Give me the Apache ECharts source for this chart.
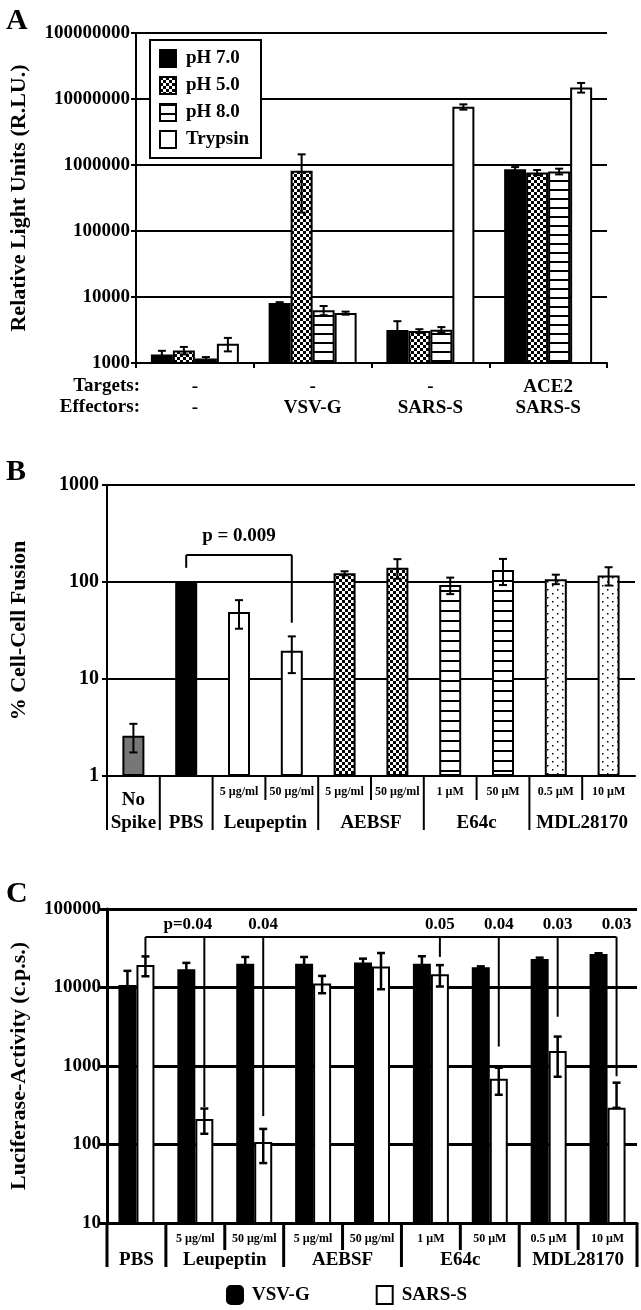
<!DOCTYPE html>
<html><head><meta charset="utf-8">
<script src="https://cdn.jsdelivr.net/npm/echarts@6/dist/echarts.min.js"></script>
<style>html,body{margin:0;padding:0;background:#fff}#c{width:641px;height:1310px}</style>
</head><body><div id="c"></div>
<script>
// ---------------- Panel A data ----------------
const aTargets = ['-', '-', '-', 'ACE2'];
const aEffectors = ['-', 'VSV-G', 'SARS-S', 'SARS-S'];
const aSeriesNames = ['pH 7.0', 'pH 5.0', 'pH 8.0', 'Trypsin'];
const aPH70 = [1350, 8100, 3150, 860000];
const aPH70Err = [180, 250, 1150, 70000];
const aPH50 = [1550, 820000, 3050, 770000];
const aPH50Err = [200, 630000, 200, 70000];
const aPH80 = [1170, 6300, 3200, 800000];
const aPH80Err = [60, 1000, 300, 80000];
const aTrypsin = [1950, 5700, 7600000, 15000000];
const aTrypsinErr = [450, 300, 700000, 2500000];
const aYTicks = [1000, 10000, 100000, 1000000, 10000000, 100000000];

// ---------------- Panel B data ----------------
const bDose = ['', '', '5 µg/ml', '50 µg/ml', '5 µg/ml', '50 µg/ml', '1 µM', '50 µM', '0.5 µM', '10 µM'];
const bGroups = ['No\nSpike', 'PBS', 'Leupeptin', 'AEBSF', 'E64c', 'MDL28170'];
const bGroupSpans = [[0, 0], [1, 1], [2, 3], [4, 5], [6, 7], [8, 9]];
const bValues = [2.6, 100, 49, 19.5, 123, 140, 93, 133, 107, 117];
const bErr = [0.85, 0, 16, 8, 6, 32, 18, 40, 12, 25];
const bP = { text: 'p = 0.009', from: 1, to: 3, level: 190, legEnds: [140, 38] };
const bYTicks = [1, 10, 100, 1000];

// ---------------- Panel C data ----------------
const cDose = ['', '5 µg/ml', '50 µg/ml', '5 µg/ml', '50 µg/ml', '1 µM', '50 µM', '0.5 µM', '10 µM'];
const cGroups = ['PBS', 'Leupeptin', 'AEBSF', 'E64c', 'MDL28170'];
const cGroupSpans = [[0, 0], [1, 2], [3, 4], [5, 6], [7, 8]];
const cSeriesNames = ['VSV-G', 'SARS-S'];
const cVSVG = [10800, 17100, 20000, 20000, 20800, 20000, 18100, 23000, 26800];
const cVSVGErr = [5500, 3500, 4500, 4500, 2500, 5000, 500, 1000, 500];
const cSARS = [19400, 212, 108, 11250, 18500, 14800, 690, 1550, 293];
const cSARSErr = [5500, 75, 50, 2800, 9000, 4500, 260, 820, 320];
const cPLabels = ['p=0.04', '0.04', '0.05', '0.04', '0.03', '0.03'];
const cPTargets = [1, 2, 5, 6, 7, 8];
const cPLevel = 44000;
const cPLegEnds = [25000, 300, 230, 24500, 1770, 4240, 740];
const cYTicks = [10, 100, 1000, 10000, 100000];

// ---------------- styles ----------------
const FONT = '"Liberation Serif", "Times New Roman", serif';
const T = (s) => ({ fontFamily: FONT, fontWeight: 'bold', fontSize: s, color: '#000' });
function pat(w, h, draw) {
  const c = document.createElement('canvas'); c.width = w; c.height = h;
  const g = c.getContext('2d'); g.fillStyle = '#fff'; g.fillRect(0, 0, w, h); g.fillStyle = '#000'; draw(g);
  return { image: c, repeat: 'repeat' };
}
const CHECK = pat(6, 6, g => { g.fillRect(0, 0, 3, 3); g.fillRect(3, 3, 3, 3); });
const STRIPE_A = pat(4, 9, g => { g.fillRect(0, 0, 4, 2); });
const STRIPE_B = pat(4, 10, g => { g.fillRect(0, 0, 4, 2); });
const DOTS = pat(10, 8, g => { g.fillRect(2, 1, 1.5, 1.5); g.fillRect(7, 5, 1.5, 1.5); });
const aFills = ['#000', CHECK, STRIPE_A, '#fff'];
const bFills = ['#777', '#000', '#fff', '#fff', CHECK, CHECK, STRIPE_B, STRIPE_B, DOTS, DOTS];
const cFills = ['#000', '#fff'];
const A_BW = 22, B_BW = 22, C_BW = 18;

function ln(x1, y1, x2, y2, w) {
  return { type: 'line', shape: { x1, y1, x2, y2 }, style: { stroke: '#000', lineWidth: w } };
}
function tx(text, x, y, size, align, valign, lh) {
  return { type: 'text', style: { text, x, y, font: 'bold ' + size + 'px ' + FONT, fill: '#000',
    align: align, verticalAlign: valign, textAlign: align, textVerticalAlign: valign, lineHeight: lh || size * 1.15 } };
}
function errRender(barW, nSeries, cap, lw) {
  return function (params, api) {
    const i = api.value(0), v = api.value(1), e = api.value(2), s = api.value(3);
    if (!e) return null;
    const off = (s - (nSeries - 1) / 2) * barW;
    const x = api.coord([i, v])[0] + off;
    const hi = api.coord([i, v + e])[1];
    const lo = api.coord([i, v - e > 0 ? v - e : v])[1];
    return { type: 'group', children: [ln(x, hi, x, lo, lw), ln(x - cap / 2, hi, x + cap / 2, hi, lw), ln(x - cap / 2, lo, x + cap / 2, lo, lw)] };
  };
}
function errData(vals, errs, s) { return vals.map((v, i) => [i, v, errs[i], s]); }

// separators + group labels below the x axis
function groupRender(spans, labels, yMin, nCats, longLen, shortLen, lw, labelDy, size, rightEnd) {
  return function (params, api) {
    const ch = [];
    const band = api.size([1, 0])[0];
    const y0 = api.coord([0, yMin])[1];
    const left = (k) => api.coord([k, yMin])[0] - band / 2;
    spans.forEach((sp, g) => {
      ch.push(ln(left(sp[0]), y0, left(sp[0]), y0 + longLen, lw));
      for (let k = sp[0] + 1; k <= sp[1]; k++) ch.push(ln(left(k), y0, left(k), y0 + shortLen, lw));
      const cx = (api.coord([sp[0], yMin])[0] + api.coord([sp[1], yMin])[0]) / 2;
      ch.push(tx(labels[g], cx, y0 + labelDy, size, 'center', 'bottom', 23));
    });
    if (rightEnd) { const xr = left(nCats - 1) + band; ch.push(ln(xr, y0, xr, y0 + longLen, lw)); }
    return { type: 'group', children: ch };
  };
}

const option = {
  animation: false,
  backgroundColor: '#fff',
  grid: [
    { left: 135, top: 33, width: 472, height: 330 },
    { left: 106, top: 485, width: 529, height: 291 },
    { left: 107, top: 909, width: 530, height: 314 }
  ],
  xAxis: [
    { type: 'category', gridIndex: 0, data: aEffectors,
      axisLine: { lineStyle: { color: '#000', width: 2 } },
      axisTick: { show: true, length: 5, lineStyle: { color: '#000', width: 2 } },
      axisLabel: Object.assign(T(19), { margin: 14, lineHeight: 21, interval: 0,
        formatter: (v, i) => aTargets[i] + '\n' + aEffectors[i] }) },
    { type: 'category', gridIndex: 1, data: bDose,
      axisLine: { lineStyle: { color: '#000', width: 2 } }, axisTick: { show: false },
      axisLabel: Object.assign(T(12), { margin: 10, interval: 0 }) },
    { type: 'category', gridIndex: 2, data: cDose,
      axisLine: { lineStyle: { color: '#000', width: 3 } }, axisTick: { show: false },
      axisLabel: Object.assign(T(12), { margin: 10, interval: 0 }) }
  ],
  yAxis: [
    { type: 'log', gridIndex: 0, min: aYTicks[0], max: aYTicks[aYTicks.length - 1], logBase: 10,
      name: 'Relative Light Units (R.LU.)', nameLocation: 'middle', nameGap: 106, nameRotate: 90, nameTextStyle: T(22),
      axisLine: { show: true, lineStyle: { color: '#000', width: 2 } },
      axisTick: { show: true, length: 5, lineStyle: { color: '#000', width: 2 } },
      splitLine: { show: true, lineStyle: { color: '#000', width: 2 } }, minorTick: { show: false },
      axisLabel: Object.assign(T(19), { margin: 6, formatter: v => String(Math.round(v)) }) },
    { type: 'log', gridIndex: 1, min: bYTicks[0], max: bYTicks[bYTicks.length - 1], logBase: 10,
      name: '% Cell-Cell Fusion', nameLocation: 'middle', nameGap: 77, nameRotate: 90, nameTextStyle: T(22),
      axisLine: { show: true, lineStyle: { color: '#000', width: 2 } },
      axisTick: { show: true, length: 5, lineStyle: { color: '#000', width: 2 } },
      splitLine: { show: true, lineStyle: { color: '#000', width: 2 } },
      axisLabel: Object.assign(T(20), { margin: 8, formatter: v => String(Math.round(v)) }) },
    { type: 'log', gridIndex: 2, min: cYTicks[0], max: cYTicks[cYTicks.length - 1], logBase: 10,
      name: 'Luciferase-Activity (c.p.s.)', nameLocation: 'middle', nameGap: 77, nameRotate: 90, nameTextStyle: T(22),
      axisLine: { show: true, lineStyle: { color: '#000', width: 3 } },
      axisTick: { show: true, length: 7, lineStyle: { color: '#000', width: 3 } },
      splitLine: { show: true, lineStyle: { color: '#000', width: 3 } },
      axisLabel: Object.assign(T(19), { margin: 6, formatter: v => String(Math.round(v)) }) }
  ],
  legend: [
    { orient: 'vertical', left: 150, top: 40, padding: [9, 12, 9, 9], itemWidth: 16, itemHeight: 17, itemGap: 8,
      borderColor: '#000', borderWidth: 2, backgroundColor: '#fff', selectedMode: false, icon: 'rect',
      textStyle: Object.assign(T(19), { padding: [0, 0, 0, 5] }), data: aSeriesNames },
    { orient: 'horizontal', left: 221, top: 1280, itemWidth: 16, itemHeight: 18, itemGap: 66, selectedMode: false,
      textStyle: Object.assign(T(19), { padding: [0, 0, 0, 4] }),
      data: [{ name: cSeriesNames[0], icon: 'roundRect' }, { name: cSeriesNames[1], icon: 'rect' }] }
  ],
  graphic: [
    { type: 'text', left: 6, top: 6, style: { text: 'A', font: 'bold 30px ' + FONT, fill: '#000' } },
    { type: 'text', left: 6, top: 457, style: { text: 'B', font: 'bold 30px ' + FONT, fill: '#000' } },
    { type: 'text', left: 6, top: 879, style: { text: 'C', font: 'bold 30px ' + FONT, fill: '#000' } },
    { type: 'text', right: 641 - 140, top: 377, style: { text: 'Targets:', font: 'bold 19px ' + FONT, fill: '#000', align: 'right' } },
    { type: 'text', right: 641 - 140, top: 398, style: { text: 'Effectors:', font: 'bold 19px ' + FONT, fill: '#000', align: 'right' } }
  ],
  series: []
};

// Panel A bars
[aPH70, aPH50, aPH80, aTrypsin].forEach((arr, s) => {
  option.series.push({ type: 'bar', name: aSeriesNames[s], xAxisIndex: 0, yAxisIndex: 0, data: arr,
    barWidth: A_BW, barGap: '0%', itemStyle: { color: aFills[s], borderColor: '#000', borderWidth: 2 } });
});
option.series.push({ type: 'custom', xAxisIndex: 0, yAxisIndex: 0, z: 5, encode: { x: 0, y: 1 },
  renderItem: errRender(A_BW, 4, 8, 2),
  data: [].concat(errData(aPH70, aPH70Err, 0), errData(aPH50, aPH50Err, 1), errData(aPH80, aPH80Err, 2), errData(aTrypsin, aTrypsinErr, 3)) });

// Panel B bars
option.series.push({ type: 'bar', name: 'B', xAxisIndex: 1, yAxisIndex: 1, barWidth: B_BW,
  data: bValues.map((v, i) => ({ value: v, itemStyle: { color: bFills[i], borderColor: '#000', borderWidth: 2 } })) });
option.series.push({ type: 'custom', xAxisIndex: 1, yAxisIndex: 1, z: 5, encode: { x: 0, y: 1 },
  renderItem: errRender(B_BW, 1, 8, 2), data: errData(bValues, bErr, 0) });
option.series.push({ type: 'custom', xAxisIndex: 1, yAxisIndex: 1, z: 5, clip: false, encode: { x: 0, y: 1 },
  renderItem: groupRender(bGroupSpans, bGroups, bYTicks[0], bDose.length, 54, 24, 2, 59, 19, false),
  data: [[0, bYTicks[0]]] });
option.series.push({ type: 'custom', xAxisIndex: 1, yAxisIndex: 1, z: 5, clip: false, encode: { x: 0, y: 1 },
  renderItem: function (params, api) {
    const ly = api.coord([bP.from, bP.level])[1];
    const x1 = api.coord([bP.from, bP.level])[0], x2 = api.coord([bP.to, bP.level])[0];
    const e1 = api.coord([bP.from, bP.legEnds[0]])[1], e2 = api.coord([bP.to, bP.legEnds[1]])[1];
    return { type: 'group', children: [ln(x1, ly, x2, ly, 2), ln(x1, ly, x1, e1, 2), ln(x2, ly, x2, e2, 2),
      tx(bP.text, (x1 + x2) / 2, ly - 19, 19, 'center', 'middle')] };
  }, data: [[0, bP.level]] });

// Panel C bars
[cVSVG, cSARS].forEach((arr, s) => {
  option.series.push({ type: 'bar', name: cSeriesNames[s], xAxisIndex: 2, yAxisIndex: 2, data: arr,
    barWidth: C_BW, barGap: '0%', itemStyle: { color: cFills[s], borderColor: '#000', borderWidth: 2 } });
});
option.series.push({ type: 'custom', xAxisIndex: 2, yAxisIndex: 2, z: 5, encode: { x: 0, y: 1 },
  renderItem: errRender(C_BW, 2, 8, 2.5),
  data: [].concat(errData(cVSVG, cVSVGErr, 0), errData(cSARS, cSARSErr, 1)) });
option.series.push({ type: 'custom', xAxisIndex: 2, yAxisIndex: 2, z: 5, clip: false, encode: { x: 0, y: 1 },
  renderItem: groupRender(cGroupSpans, cGroups, cYTicks[0], cDose.length, 44, 27, 3, 49, 19, true),
  data: [[0, cYTicks[0]]] });
option.series.push({ type: 'custom', xAxisIndex: 2, yAxisIndex: 2, z: 5, clip: false, encode: { x: 0, y: 1 },
  renderItem: function (params, api) {
    const ch = [];
    const off = C_BW / 2;
    const ly = api.coord([0, cPLevel])[1];
    const idx = [0].concat(cPTargets);
    const xs = idx.map(i => api.coord([i, cPLevel])[0] + off);
    ch.push(ln(xs[0], ly, xs[xs.length - 1], ly, 2));
    xs.forEach((x, k) => { ch.push(ln(x, ly, x, api.coord([0, cPLegEnds[k]])[1], 2)); });
    cPLabels.forEach((t, k) => {
      const x = xs[k + 1];
      if (k === 0) ch.push(tx(t, x + 8, ly - 12, 17, 'right', 'middle'));
      else ch.push(tx(t, x, ly - 12, 17, 'center', 'middle'));
    });
    return { type: 'group', children: ch };
  }, data: [[0, cPLevel]] });

const chart = echarts.init(document.getElementById('c'), null, { renderer: 'canvas', width: 641, height: 1310 });
chart.setOption(option);
</script>
</body></html>
